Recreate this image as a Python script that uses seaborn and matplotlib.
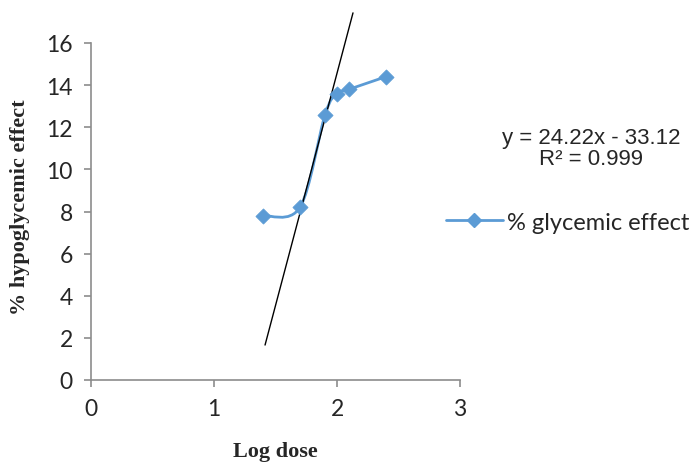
import numpy as np
import pandas as pd
import matplotlib
matplotlib.use("Agg")
import matplotlib.pyplot as plt
import seaborn as sns
from matplotlib.path import Path
from matplotlib.patches import PathPatch
from matplotlib.lines import Line2D

# ---- data ----
log_dose = [1.398, 1.699, 1.903, 2.0, 2.097, 2.398]
glycemic_effect = [7.8, 8.2, 12.6, 13.6, 13.8, 14.4]
trend_x = [1.415, 2.13]
trend_y = [1.66, 17.43]
x_ticks = [0, 1, 2, 3]
y_ticks = [0, 2, 4, 6, 8, 10, 12, 14, 16]
series_name = "% glycemic effect"
equation_text = "y = 24.22x - 33.12\nR² = 0.999"

df = pd.DataFrame({"x": log_dose, "y": glycemic_effect})

sns.set_style("white")
plt.rcParams['font.family'] = ['Lato', 'DejaVu Sans']

BLUE = "#5B9BD5"
AXIS = "#8C8C8C"

fig = plt.figure(figsize=(6.99, 4.64), dpi=100)
ax = fig.add_axes([91/699, 1-381/464, (460-91)/699, (381-44)/464])
ax.set_xlim(0, 3)
ax.set_ylim(0, 16)

# trendline
ax.plot(trend_x, trend_y, color="black", lw=1.0, clip_on=False, zorder=3)

# smoothed series line (Bezier through points, computed in display space)
fig.canvas.draw()
pts = ax.transData.transform(np.column_stack([log_dose, glycemic_effect]))
n = len(pts)
verts = [tuple(pts[0])]
codes = [Path.MOVETO]
for i in range(n - 1):
    p0 = pts[i - 1] if i > 0 else pts[i]
    p1 = pts[i]
    p2 = pts[i + 1]
    p3 = pts[i + 2] if i + 2 < n else pts[i + 1]
    c1 = p1 + (p2 - p0) / 6.0
    c2 = p2 - (p3 - p1) / 6.0
    verts += [tuple(c1), tuple(c2), tuple(p2)]
    codes += [Path.CURVE4] * 3
path = Path(verts, codes)
ax.add_patch(PathPatch(path, facecolor="none", edgecolor=BLUE, lw=2.0,
                       transform=None, zorder=2))

sns.scatterplot(data=df, x="x", y="y", ax=ax, marker="D", s=60,
                color=BLUE, edgecolor=BLUE, linewidth=0.5, zorder=4, legend=False)

# axes styling
for s in ["top", "right"]:
    ax.spines[s].set_visible(False)
for s in ["left", "bottom"]:
    ax.spines[s].set_color(AXIS)
    ax.spines[s].set_linewidth(1.2)
ax.set_xticks(x_ticks)
ax.set_yticks(y_ticks)
ax.tick_params(axis="both", direction="out", length=5, width=1.2, color=AXIS,
               labelsize=16.5, pad=8, left=True, bottom=True)
ax.set_xlabel("Log dose", fontsize=16, fontweight="bold",
              family=["Liberation Serif"], labelpad=16)
ax.set_ylabel("% hypoglycemic effect", fontsize=16, fontweight="bold",
              family=["Liberation Serif"])
ax.yaxis.set_label_coords(-0.165, 0.515)

fig.text(591/699, 1-149/464, equation_text, ha="center", va="center",
         fontsize=16, family=["Liberation Sans"], linespacing=1.0)

handle = Line2D([], [], color=BLUE, lw=2, marker="D", markersize=7,
                markerfacecolor=BLUE, markeredgecolor=BLUE)
fig.legend([handle], [series_name], loc="center left",
           bbox_to_anchor=(446/699, 1-223/464), frameon=False,
           fontsize=17, handlelength=2.4, handletextpad=0.2,
           borderaxespad=0, borderpad=0)

fig.savefig("out.png", dpi=100)
